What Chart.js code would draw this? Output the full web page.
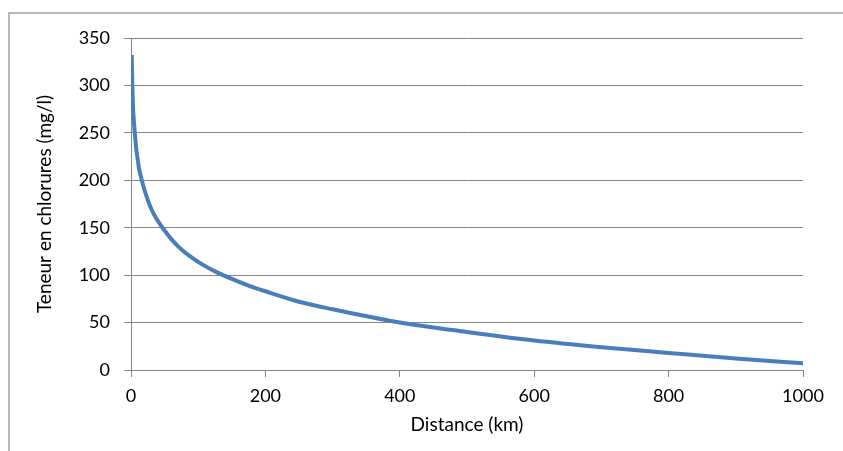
<!DOCTYPE html>
<html>
<head>
<meta charset="utf-8">
<script src="https://cdn.jsdelivr.net/npm/chart.js@4/dist/chart.umd.min.js"></script>
<style>
html,body{margin:0;padding:0;background:#fff;}
#wrap{width:843px;height:451px;position:relative;}
</style>
</head>
<body>
<div id="wrap"><canvas id="c" width="843" height="451"></canvas></div>
<script>
const distanceKm = [1, 2, 3, 4, 6, 8, 10, 12, 15, 20, 30, 40, 50, 60, 75, 100, 125, 150, 175, 200, 250, 300, 400, 500, 600, 700, 800, 900, 1000];
const chlorures  = [332, 300, 277, 265, 247, 232, 222, 212, 203, 190, 170, 157, 147, 138, 127, 114, 104, 96, 89, 83, 72, 64, 50, 40, 31, 24, 18, 12, 7];
const xTitle = 'Distance (km)';
const yTitle = 'Teneur en chlorures (mg/l)';

const points = distanceKm.map((x, i) => ({x: x, y: chlorures[i]}));

const borderPlugin = {
  id: 'outerBorder',
  beforeDraw(chart) {
    const ctx = chart.ctx;
    ctx.save();
    ctx.fillStyle = '#fff';
    ctx.fillRect(0, 0, chart.width, chart.height);
    ctx.strokeStyle = '#a0a0a0';
    ctx.lineWidth = 1.5;
    ctx.strokeRect(9, 13, 900, 500);
    ctx.restore();
  }
};

const FONT = "Lato, 'Open Sans', sans-serif";

new Chart(document.getElementById('c'), {
  type: 'line',
  data: {
    datasets: [{
      data: points,
      borderColor: '#4a7ebb',
      borderWidth: 4,
      pointRadius: 0,
      cubicInterpolationMode: 'monotone',
      fill: false
    }]
  },
  options: {
    responsive: false,
    animation: false,
    layout: {padding: {top: 38, right: 40, left: 20, bottom: 0}},
    plugins: {legend: {display: false}, tooltip: {enabled: false}},
    scales: {
      x: {
        type: 'linear',
        min: 0, max: 1000,
        ticks: {stepSize: 200, color: '#000', font: {family: FONT, size: 18}, padding: 8, maxRotation: 0, callback: v => String(v)},
        grid: {display: true, drawOnChartArea: false, tickLength: 7, color: '#868686', tickColor: '#868686'},
        border: {color: '#868686', width: 1},
        title: {display: true, text: xTitle, color: '#000', font: {family: FONT, size: 19}, padding: {top: 0, bottom: 15}},
        afterFit(scale) { scale.height = 451 - 370; }
      },
      y: {
        min: 0, max: 350,
        ticks: {stepSize: 50, color: '#000', font: {family: FONT, size: 18}, padding: 14, callback: v => String(v)},
        grid: {color: '#868686', tickLength: 7, tickColor: '#868686'},
        border: {color: '#868686', width: 1},
        title: {display: true, text: yTitle, color: '#000', font: {family: FONT, size: 19}, padding: {top: 13, bottom: 0}},
        afterFit(scale) { scale.width = 111; }
      }
    }
  },
  plugins: [borderPlugin]
});
</script>
</body>
</html>
